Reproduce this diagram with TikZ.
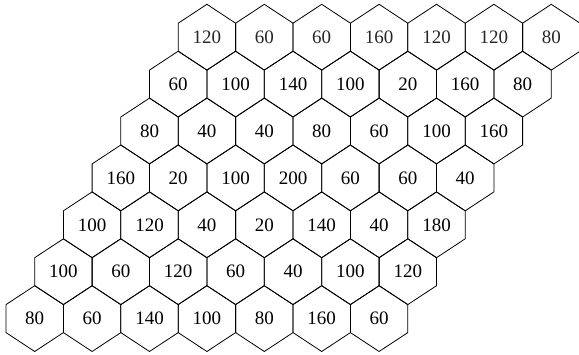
\documentclass[tikz,border=0pt]{standalone}
\usepackage{fontspec}
\setmainfont{Liberation Serif}
\begin{document}
\begin{tikzpicture}[x=1pt,y=1pt,
  hexlabel/.style={inner sep=0pt,font=\fontsize{19}{19}\selectfont,text=black},
  toplabel/.style={hexlabel,text=black!85},
  hexline/.style={draw=black,line width=0.8pt,line join=miter}]
\useasboundingbox (0,0) rectangle (579,354);
\clip (0,0) rectangle (579,354);
\foreach \row/\vals in {0/{120,60,60,160,120,120,80},
                        1/{60,100,140,100,20,160,80},
                        2/{80,40,40,80,60,100,160},
                        3/{160,20,100,200,60,60,40},
                        4/{100,120,40,20,140,40,180},
                        5/{100,60,120,60,40,100,120},
                        6/{80,60,140,100,80,160,60}}{
  \foreach \v [count=\c from 0] in \vals {
    \pgfmathsetmacro{\cx}{34.7+\c*57.4+(6-\row)*28.7}
    \pgfmathsetmacro{\cy}{354-37.2-\row*46.9}
    \draw[hexline] (\cx,\cy) ++(0,32.9) -- ++(28.7,-18.9) -- ++(0,-28) -- ++(-28.7,-18.9) -- ++(-28.7,18.9) -- ++(0,28) -- cycle;
    \ifnum\row=0
      \node[toplabel] (h-\row-\c) at (\cx,\cy) {\v};
    \else
      \node[hexlabel] (h-\row-\c) at (\cx,\cy) {\v};
    \fi
  }
}
\end{tikzpicture}
\end{document}
